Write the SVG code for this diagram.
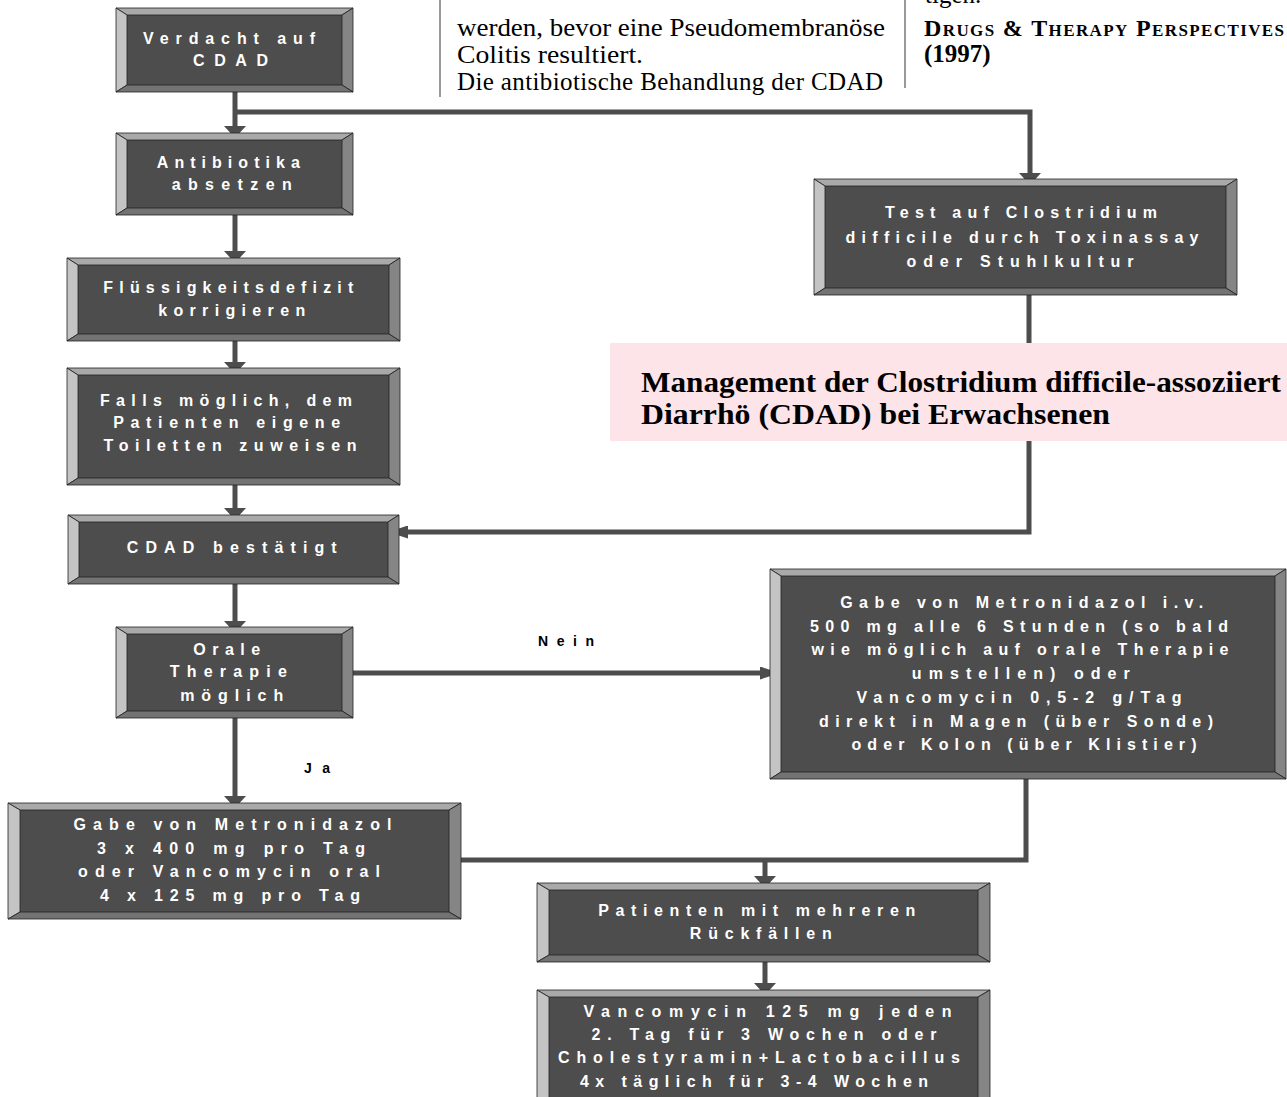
<svg xmlns="http://www.w3.org/2000/svg" width="1287" height="1097" viewBox="0 0 1287 1097">
<style>
.bt{fill:#a9a9a9;stroke:#222;stroke-width:.8}
.bl{fill:#c4c4c4;stroke:#222;stroke-width:.8}
.br{fill:#858585;stroke:#222;stroke-width:.8}
.bb{fill:#737373;stroke:#222;stroke-width:.8}
.face{fill:#4d4d4d}
.t{font-family:"Liberation Sans",Arial,sans-serif;font-weight:bold;font-size:16px;fill:#fff;text-anchor:middle}
.lbl{font-family:"Liberation Sans",Arial,sans-serif;font-weight:bold;font-size:14px;fill:#000;text-anchor:middle}
.con{fill:none;stroke:#4d4d4d;stroke-width:5}
.serif{font-family:"Liberation Serif","Times New Roman",serif;fill:#000}
.rule{stroke:#999;stroke-width:2}
</style>
<defs>
<marker id="arrV" markerUnits="userSpaceOnUse" viewBox="0 0 12 22" refX="0" refY="11" markerWidth="12" markerHeight="22" orient="auto"><path d="M0,0 L12,11 L0,22 z" fill="#4d4d4d"/></marker>
<marker id="arrH" markerUnits="userSpaceOnUse" viewBox="0 0 20 13" refX="0" refY="6.5" markerWidth="20" markerHeight="13" orient="auto"><path d="M0,0 L20,6.5 L0,13 z" fill="#4d4d4d"/></marker>
</defs>

<g id="page-text">
<line class="rule" x1="440" y1="0" x2="440" y2="97"/>
<line class="rule" x1="905" y1="0" x2="905" y2="88"/>
<text class="serif" font-size="25" x="457" y="36" textLength="428" lengthAdjust="spacingAndGlyphs">werden, bevor eine Pseudomembranöse</text>
<text class="serif" font-size="25" x="457" y="63" textLength="186" lengthAdjust="spacingAndGlyphs">Colitis resultiert.</text>
<text class="serif" font-size="25" x="457" y="90" textLength="426" lengthAdjust="spacing">Die antibiotische Behandlung der CDAD</text>
<text class="serif" font-size="25" x="925" y="3">tigen.</text>
<text class="serif" font-weight="bold" font-size="24" x="924" y="36" textLength="360" lengthAdjust="spacing">D<tspan font-size="17">RUGS</tspan> &amp; T<tspan font-size="17">HERAPY</tspan> P<tspan font-size="17">ERSPECTIVES</tspan></text>
<text class="serif" font-weight="bold" font-size="25" x="924" y="62">(1997)</text>
</g>

<g id="connectors">
<path class="con" d="M235,92 V126" marker-end="url(#arrV)"/>
<path class="con" d="M235,112 H1030 V173" marker-end="url(#arrV)"/>
<path class="con" d="M235,215 V251" marker-end="url(#arrV)"/>
<path class="con" d="M235,341 V362" marker-end="url(#arrV)"/>
<path class="con" d="M235,485 V508" marker-end="url(#arrV)"/>
<path class="con" d="M1029,295 V532 H408" marker-end="url(#arrH)"/>
<path class="con" d="M235,584 V621" marker-end="url(#arrV)"/>
<path class="con" d="M353,673 H760" marker-end="url(#arrH)"/>
<path class="con" d="M235,718 V796" marker-end="url(#arrV)"/>
<path class="con" d="M1026,779 V860 H461"/>
<path class="con" d="M765,860 V876" marker-end="url(#arrV)"/>
<path class="con" d="M765,962 V983" marker-end="url(#arrV)"/>
<text class="lbl" x="566" y="646" textLength="56" lengthAdjust="spacing">Nein</text>
<text class="lbl" x="317" y="773" textLength="26" lengthAdjust="spacing">Ja</text>
</g>

<g id="n-verdacht">
<rect class="face" x="116" y="8" width="237" height="84"/>
<polygon class="bt" points="116,8 353,8 342,15 127,15"/>
<polygon class="bl" points="116,8 127,15 127,85 116,92"/>
<polygon class="br" points="353,8 353,92 342,85 342,15"/>
<polygon class="bb" points="116,92 127,85 342,85 353,92"/>
<text class="t" x="229" y="44" textLength="172" lengthAdjust="spacing">Verdacht auf</text>
<text class="t" x="230.5" y="66" textLength="75" lengthAdjust="spacing">CDAD</text>
</g>

<g id="n-antibiotika">
<rect class="face" x="116" y="133" width="237" height="82"/>
<polygon class="bt" points="116,133 353,133 342,140 127,140"/>
<polygon class="bl" points="116,133 127,140 127,208 116,215"/>
<polygon class="br" points="353,133 353,215 342,208 342,140"/>
<polygon class="bb" points="116,215 127,208 342,208 353,215"/>
<text class="t" x="228.3" y="168" textLength="143" lengthAdjust="spacing">Antibiotika</text>
<text class="t" x="231.7" y="190" textLength="120" lengthAdjust="spacing">absetzen</text>
</g>

<g id="n-fluessigkeit">
<rect class="face" x="67" y="258" width="333" height="83"/>
<polygon class="bt" points="67,258 400,258 389,265 78,265"/>
<polygon class="bl" points="67,258 78,265 78,334 67,341"/>
<polygon class="br" points="400,258 400,341 389,334 389,265"/>
<polygon class="bb" points="67,341 78,334 389,334 400,341"/>
<text class="t" x="228.3" y="293" textLength="250" lengthAdjust="spacing">Flüssigkeitsdefizit</text>
<text class="t" x="231.7" y="316" textLength="147" lengthAdjust="spacing">korrigieren</text>
</g>

<g id="n-toiletten">
<rect class="face" x="67" y="368" width="333" height="117"/>
<polygon class="bt" points="67,368 400,368 389,375 78,375"/>
<polygon class="bl" points="67,368 78,375 78,478 67,485"/>
<polygon class="br" points="400,368 400,485 389,478 389,375"/>
<polygon class="bb" points="67,485 78,478 389,478 400,485"/>
<text class="t" x="226" y="406" textLength="252" lengthAdjust="spacing">Falls möglich, dem</text>
<text class="t" x="226.7" y="428" textLength="227" lengthAdjust="spacing">Patienten eigene</text>
<text class="t" x="230" y="451" textLength="253" lengthAdjust="spacing">Toiletten zuweisen</text>
</g>

<g id="n-bestaetigt">
<rect class="face" x="68" y="515" width="331" height="69"/>
<polygon class="bt" points="68,515 399,515 388,522 79,522"/>
<polygon class="bl" points="68,515 79,522 79,577 68,584"/>
<polygon class="br" points="399,515 399,584 388,577 388,522"/>
<polygon class="bb" points="68,584 79,577 388,577 399,584"/>
<text class="t" x="231.7" y="553" textLength="210" lengthAdjust="spacing">CDAD bestätigt</text>
</g>

<g id="n-oral">
<rect class="face" x="116" y="627" width="237" height="91"/>
<polygon class="bt" points="116,627 353,627 342,634 127,634"/>
<polygon class="bl" points="116,627 127,634 127,711 116,718"/>
<polygon class="br" points="353,627 353,718 342,711 342,634"/>
<polygon class="bb" points="116,718 127,711 342,711 353,718"/>
<text class="t" x="226.7" y="655" textLength="67" lengthAdjust="spacing">Orale</text>
<text class="t" x="228.3" y="677" textLength="117" lengthAdjust="spacing">Therapie</text>
<text class="t" x="231.7" y="701" textLength="103" lengthAdjust="spacing">möglich</text>
</g>

<g id="n-test">
<rect class="face" x="814" y="179" width="423" height="116"/>
<polygon class="bt" points="814,179 1237,179 1226,186 825,186"/>
<polygon class="bl" points="814,179 825,186 825,288 814,295"/>
<polygon class="br" points="1237,179 1237,295 1226,288 1226,186"/>
<polygon class="bb" points="814,295 825,288 1226,288 1237,295"/>
<text class="t" x="1021" y="218" textLength="272" lengthAdjust="spacing">Test auf Clostridium</text>
<text class="t" x="1022" y="243" textLength="353" lengthAdjust="spacing">difficile durch Toxinassay</text>
<text class="t" x="1020" y="267" textLength="227" lengthAdjust="spacing">oder Stuhlkultur</text>
</g>

<g id="n-iv">
<rect class="face" x="770" y="569" width="516" height="210"/>
<polygon class="bt" points="770,569 1286,569 1275,576 781,576"/>
<polygon class="bl" points="770,569 781,576 781,772 770,779"/>
<polygon class="br" points="1286,569 1286,779 1275,772 1275,576"/>
<polygon class="bb" points="770,779 781,772 1275,772 1286,779"/>
<text class="t" x="1021.7" y="608" textLength="363" lengthAdjust="spacing">Gabe von Metronidazol i.v.</text>
<text class="t" x="1019" y="631.5" textLength="418" lengthAdjust="spacing">500 mg alle 6 Stunden (so bald</text>
<text class="t" x="1020" y="655" textLength="417" lengthAdjust="spacing">wie möglich auf orale Therapie</text>
<text class="t" x="1020.8" y="679" textLength="218" lengthAdjust="spacing">umstellen) oder</text>
<text class="t" x="1019" y="703" textLength="325" lengthAdjust="spacing">Vancomycin 0,5-2 g/Tag</text>
<text class="t" x="1016" y="727" textLength="394" lengthAdjust="spacing">direkt in  Magen (über Sonde)</text>
<text class="t" x="1024" y="750" textLength="345" lengthAdjust="spacing">oder Kolon (über Klistier)</text>
</g>

<g id="n-oral-therapie">
<rect class="face" x="8" y="803" width="453" height="116"/>
<polygon class="bt" points="8,803 461,803 449,810 20,810"/>
<polygon class="bl" points="8,803 20,810 20,912 8,919"/>
<polygon class="br" points="461,803 461,919 449,912 449,810"/>
<polygon class="bb" points="8,919 20,912 449,912 461,919"/>
<text class="t" x="232.5" y="830" textLength="318" lengthAdjust="spacing">Gabe von Metronidazol</text>
<text class="t" x="231" y="854" textLength="268" lengthAdjust="spacing">3 x  400 mg pro Tag</text>
<text class="t" x="229" y="877" textLength="302" lengthAdjust="spacing">oder Vancomycin oral</text>
<text class="t" x="230" y="901" textLength="260" lengthAdjust="spacing">4 x 125 mg pro Tag</text>
</g>

<g id="n-rueckfaelle">
<rect class="face" x="537" y="883" width="453" height="79"/>
<polygon class="bt" points="537,883 990,883 978,890 549,890"/>
<polygon class="bl" points="537,883 549,890 549,955 537,962"/>
<polygon class="br" points="990,883 990,962 978,955 978,890"/>
<polygon class="bb" points="537,962 549,955 978,955 990,962"/>
<text class="t" x="756.7" y="916" textLength="317" lengthAdjust="spacing">Patienten mit mehreren</text>
<text class="t" x="760.8" y="939" textLength="142" lengthAdjust="spacing">Rückfällen</text>
</g>

<g id="n-vancomycin">
<rect class="face" x="537" y="990" width="453" height="115"/>
<polygon class="bt" points="537,990 990,990 978,997 549,997"/>
<polygon class="bl" points="537,990 549,997 549,1105 537,1105"/>
<polygon class="br" points="990,990 990,1105 978,1105 978,997"/>
<text class="t" x="767.5" y="1017" textLength="368" lengthAdjust="spacing">Vancomycin 125 mg jeden</text>
<text class="t" x="764" y="1040" textLength="345" lengthAdjust="spacing">2. Tag für 3 Wochen oder</text>
<text class="t" x="759" y="1063" textLength="402" lengthAdjust="spacing">Cholestyramin+Lactobacillus</text>
<text class="t" x="754" y="1087" textLength="348" lengthAdjust="spacing">4x täglich für 3-4 Wochen</text>
</g>

<g id="title">
<rect x="610" y="343" width="677" height="98" fill="#fce4e9"/>
<text class="serif" font-weight="bold" font-size="30" x="641" y="392" textLength="640" lengthAdjust="spacingAndGlyphs">Management der Clostridium difficile-assoziiert</text>
<text class="serif" font-weight="bold" font-size="30" x="641" y="424" textLength="469" lengthAdjust="spacingAndGlyphs">Diarrhö (CDAD) bei Erwachsenen</text>
</g>
</svg>
